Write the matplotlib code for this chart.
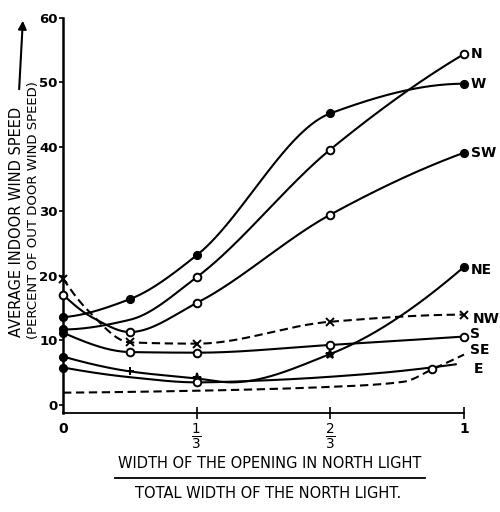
import numpy as np
import matplotlib
matplotlib.use("Agg")
import matplotlib.pyplot as plt
from matplotlib.lines import Line2D

# ---------------- data ----------------
x_N = [0, 1/6, 1/3, 2/3, 1]
N = [11.7, 13.2, 19.8, 39.6, 54.4]

x_W = [0, 1/6, 1/3, 2/3, 1]
W = [13.6, 16.4, 23.2, 45.2, 49.8]

x_SW = [0, 0.075, 1/6, 1/3, 2/3, 1]
SW = [17.1, 13.5, 11.3, 15.8, 29.5, 39.1]

x_NE = [0, 1/6, 1/3, 0.42, 2/3, 1]
NE = [7.5, 5.2, 4.1, 3.5, 7.9, 21.4]

x_NW = [0, 0.06, 1/6, 1/3, 2/3, 1]
NW = [19.6, 14.8, 9.7, 9.5, 12.9, 14.0]

x_S = [0, 1/6, 1/3, 2/3, 1]
S = [11.2, 8.2, 8.1, 9.3, 10.6]

x_SE = [0, 1/3, 2/3, 0.85, 0.92, 1]
SE = [1.9, 2.2, 2.8, 3.6, 5.5, 7.8]

x_E = [0, 1/6, 1/3, 0.5, 0.78, 0.98]
E = [5.8, 4.3, 3.5, 3.8, 4.9, 6.3]

y_ticks = [0, 10, 20, 30, 40, 50, 60]
y_tick_labels = ["0", "10", "20", "30", "40", "50", "60"]
x_ticks = [0, 1/3, 2/3, 1]
x_tick_labels = ["0", r"$\frac{1}{3}$", r"$\frac{2}{3}$", "1"]

y_label_1 = "AVERAGE INDOOR WIND SPEED"
y_label_2 = "(PERCENT OF OUT DOOR WIND SPEED)"
x_label_1 = "WIDTH OF THE OPENING IN NORTH LIGHT"
x_label_2 = "TOTAL WIDTH OF THE NORTH LIGHT."


# ---------------- smooth drawing of the curves ----------------
def pchip(x, y, xs):
    x = np.asarray(x, float)
    y = np.asarray(y, float)
    h = np.diff(x)
    d = np.diff(y) / h
    n = len(x)
    m = np.zeros(n)
    for k in range(1, n - 1):
        if d[k - 1] * d[k] > 0:
            w1 = 2 * h[k] + h[k - 1]
            w2 = h[k] + 2 * h[k - 1]
            m[k] = (w1 + w2) / (w1 / d[k - 1] + w2 / d[k])

    def end(h0, h1, d0, d1):
        mm = ((2 * h0 + h1) * d0 - h0 * d1) / (h0 + h1)
        if np.sign(mm) != np.sign(d0):
            mm = 0.0
        elif np.sign(d0) != np.sign(d1) and abs(mm) > abs(3 * d0):
            mm = 3 * d0
        return mm

    m[0] = end(h[0], h[1], d[0], d[1])
    m[-1] = end(h[-1], h[-2], d[-1], d[-2])
    idx = np.clip(np.searchsorted(x, xs, side="right") - 1, 0, n - 2)
    t = (xs - x[idx]) / h[idx]
    h00 = 2 * t**3 - 3 * t**2 + 1
    h10 = t**3 - 2 * t**2 + t
    h01 = -2 * t**3 + 3 * t**2
    h11 = t**3 - t**2
    return (h00 * y[idx] + h10 * h[idx] * m[idx]
            + h01 * y[idx + 1] + h11 * h[idx] * m[idx + 1])


fig = plt.figure(figsize=(5, 5.12), dpi=100)
fig.patch.set_facecolor("white")
ax = fig.add_axes([0.126, 0.194, 0.802, 0.771])
ax.set_xlim(0, 1)
ax.set_ylim(-1.2, 60)

LW = 1.5
# series styles: (x, y, dashed, markers [(index, marker, filled)], label, label offset pts)
series = [
    (x_N, N, False, [(0, "o", True), (2, "o", False), (3, "o", False), (4, "o", False)], "N", (5, 0)),
    (x_W, W, False, [(i, "o", True) for i in range(5)], "W", (5, 0)),
    (x_SW, SW, False, [(0, "o", False), (2, "o", False), (3, "o", False), (4, "o", False), (5, "o", True)], "SW", (5, 0)),
    (x_NE, NE, False, [(0, "o", True), (1, "+", True), (2, "*", True), (4, "*", True), (5, "o", True)], "NE", (5, -2)),
    (x_NW, NW, True, [(0, "x", True), (2, "x", True), (3, "x", True), (4, "x", True), (5, "x", True)], "NW", (6, -3)),
    (x_S, S, False, [(0, "o", True), (1, "o", False), (2, "o", False), (3, "o", False), (4, "o", False)], "S", (4, 1.5)),
    (x_SE, SE, True, [(4, "o", False)], "SE", (4, 3)),
    (x_E, E, False, [(0, "o", True), (2, "o", False)], "E", (13, -3.5)),
]

for xs_, ys_, dashed, marks, lab, off in series:
    xx = np.linspace(xs_[0], xs_[-1], 300)
    yy = pchip(xs_, ys_, xx)
    ln, = ax.plot(xx, yy, color="black", lw=LW, clip_on=False, solid_capstyle="round")
    if dashed:
        ln.set_dashes((4, 2.2))
    for i, mk, filled in marks:
        if mk in ("x", "+", "*"):
            ax.plot(xs_[i], ys_[i], marker=mk, ms=6 if mk != "*" else 6.5, mew=1.4,
                    color="black", clip_on=False, zorder=4, linestyle="none")
        else:
            ax.plot(xs_[i], ys_[i], marker="o", ms=5.2 if filled else 5.5, mew=1.4,
                    mfc="black" if filled else "white", mec="black",
                    clip_on=False, zorder=4, linestyle="none")
    ax.annotate(lab, (xs_[-1], ys_[-1]), xytext=off, textcoords="offset points",
                ha="left", va="center", fontsize=10, fontweight="bold",
                annotation_clip=False)

# axes styling
for s in ["top", "right"]:
    ax.spines[s].set_visible(False)
ax.spines["left"].set_linewidth(1.8)
ax.spines["bottom"].set_linewidth(1.3)
ax.set_yticks(y_ticks)
ax.set_yticklabels(y_tick_labels)
ax.tick_params(axis="y", direction="out", length=3, width=1.2, labelsize=9.5, pad=1)
ax.set_xticks(x_ticks)
ax.set_xticklabels(x_tick_labels)
ax.tick_params(axis="x", direction="inout", length=9, width=1.2, labelsize=14, pad=2)
ax.xaxis.get_major_ticks()[0].tick1line.set_visible(False)
for t in ax.get_xticklabels():
    if t.get_text() in ("0", "1"):
        t.set_fontsize(10)
        t.set_fontweight("bold")
for t in ax.get_yticklabels():
    t.set_fontweight("bold")

# y label (two lines) with arrow
fig.text(17 / 500, 1 - 222 / 512, y_label_1, rotation=90, ha="center", va="center",
         fontsize=10.5)
fig.text(34 / 500, 1 - 210 / 512, y_label_2, rotation=90, ha="center", va="center",
         fontsize=9.5)
fig.add_artist(matplotlib.patches.FancyArrowPatch(
    (19 / 500, 1 - 92 / 512), (23 / 500, 1 - 18 / 512),
    transform=fig.transFigure, arrowstyle="-|>", mutation_scale=12,
    lw=1.5, color="black"))

# x label as a fraction
fig.text(270 / 500, 1 - 463 / 512, x_label_1, ha="center", va="center", fontsize=10.5)
fig.add_artist(Line2D([115 / 500, 425 / 500], [1 - 478 / 512, 1 - 478 / 512],
                      transform=fig.transFigure, color="black", lw=1.3))
fig.text(268 / 500, 1 - 494 / 512, x_label_2, ha="center", va="center", fontsize=10.5)

fig.savefig("out.png", dpi=100, facecolor="white")
